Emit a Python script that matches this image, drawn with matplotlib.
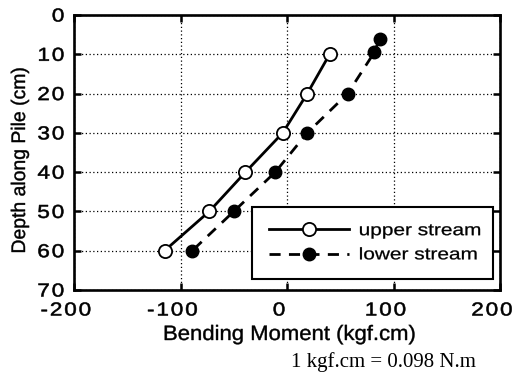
import matplotlib
matplotlib.use("Agg")
import matplotlib.pyplot as plt
from matplotlib.patheffects import AbstractPathEffect
from matplotlib.transforms import Affine2D

# Data
upper_depth = [10, 20, 30, 40, 50, 60]
upper_moment = [40, 19, -4, -39, -73, -115]
lower_depth = [6, 9.5, 20, 30, 40, 50, 60]
lower_moment = [87, 82, 57, 19, -11, -50, -89]

x_ticks = [-200, -100, 0, 100, 200]
y_ticks = [0, 10, 20, 30, 40, 50, 60, 70]

GAP = '\u200a'


def spaced(v):
    return GAP.join(str(v))


class Stretch(AbstractPathEffect):
    """Widen glyphs horizontally (in text direction) around an anchor."""
    def __init__(self, sx=1.2, anchor=0.5, lw=0.0, dx=0.0, dy=0.0):
        super().__init__()
        self.sx = sx
        self.anchor = anchor
        self.lw = lw
        self.dx = dx
        self.dy = dy

    def draw_path(self, renderer, gc, tpath, affine, rgbFace=None):
        v = tpath.vertices
        a = 0.0
        if len(v):
            x0, x1 = v[:, 0].min(), v[:, 0].max()
            a = x0 + self.anchor * (x1 - x0)
        t = (Affine2D().translate(-a, 0).scale(self.sx, 1).translate(a, 0)
             + affine + Affine2D().translate(self.dx, self.dy))
        gc0 = renderer.new_gc()
        gc0.copy_properties(gc)
        if self.lw > 0 and rgbFace is not None:
            gc0.set_linewidth(self.lw)
            gc0.set_foreground(rgbFace)
        renderer.draw_path(gc0, tpath, t, rgbFace)
        gc0.restore()


plt.rcParams['font.family'] = ['Liberation Sans', 'DejaVu Sans']

fig = plt.figure(figsize=(5.16, 3.77), dpi=100)
L, R, T, B = 74, 500, 15, 290
ax = fig.add_axes([L/516, 1 - B/377, (R-L)/516, (B-T)/377])

ax.plot(upper_moment, upper_depth, '-', color='black', lw=2.0,
        marker='o', ms=9.5, mfc='white', mec='black', mew=1.3,
        label='upper stream', zorder=3)
ax.plot(lower_moment, lower_depth, color='black', lw=2.0, ls=(0, (4.0, 3.0)),
        marker='o', ms=9, mfc='black', mec='black',
        label='lower stream', zorder=3)

ax.set_xlim(-200, 200)
ax.set_ylim(70, 0)
ax.set_xticks(x_ticks)
ax.set_yticks(y_ticks)
ax.set_xticklabels([spaced(v) for v in x_ticks])
ax.set_yticklabels([spaced(v) for v in y_ticks])
ax.grid(True, color='black', ls=(0, (1, 2)), lw=0.9)
ax.tick_params(direction='in', length=5, width=1.8, top=True, right=True,
               labelsize=13.5)
ax.tick_params(axis='x', pad=9)
ax.tick_params(axis='y', pad=7)
for lbl in ax.get_xticklabels():
    lbl.set_path_effects([Stretch(1.2, 0.5, 0.4, dx=-8)])
for lbl in ax.get_yticklabels():
    lbl.set_path_effects([Stretch(1.2, 1.0, 0.4)])
for s in ax.spines.values():
    s.set_linewidth(1.9)

xl = ax.set_xlabel('Bending Moment (kgf.cm)', fontsize=15)
yl = ax.set_ylabel('Depth along Pile (cm)', fontsize=14.1)
ax.xaxis.set_label_coords((290 - L) / (R - L), -(325 - B) / (B - T))
ax.yaxis.set_label_coords(-(L - 29) / (R - L), 0.5)
xl.set_path_effects([Stretch(1.06, 0.5, 0.3)])
yl.set_path_effects([Stretch(0.99, 0.5, 0.3, dy=-7)])

leg = ax.legend(loc='lower left', bbox_to_anchor=((252 - L) / (R - L), 0.04,
                                                  (493 - 252) / (R - L), 0.26),
                mode='expand', borderaxespad=0, fancybox=False, framealpha=1,
                edgecolor='black', fontsize=12, handlelength=4.8,
                handletextpad=0.6, borderpad=1.0, labelspacing=0.55)
leg.get_frame().set_linewidth(1.5)
for t in leg.get_texts():
    t.set_path_effects([Stretch(1.25, 0.0, 0.2)])

fig.text(383/516, 1 - 362/377, '1 kgf.cm = 0.098 N.m', ha='center', va='center',
         fontsize=15, family=['Liberation Serif', 'DejaVu Serif'])

fig.savefig('out.png', dpi=100)
